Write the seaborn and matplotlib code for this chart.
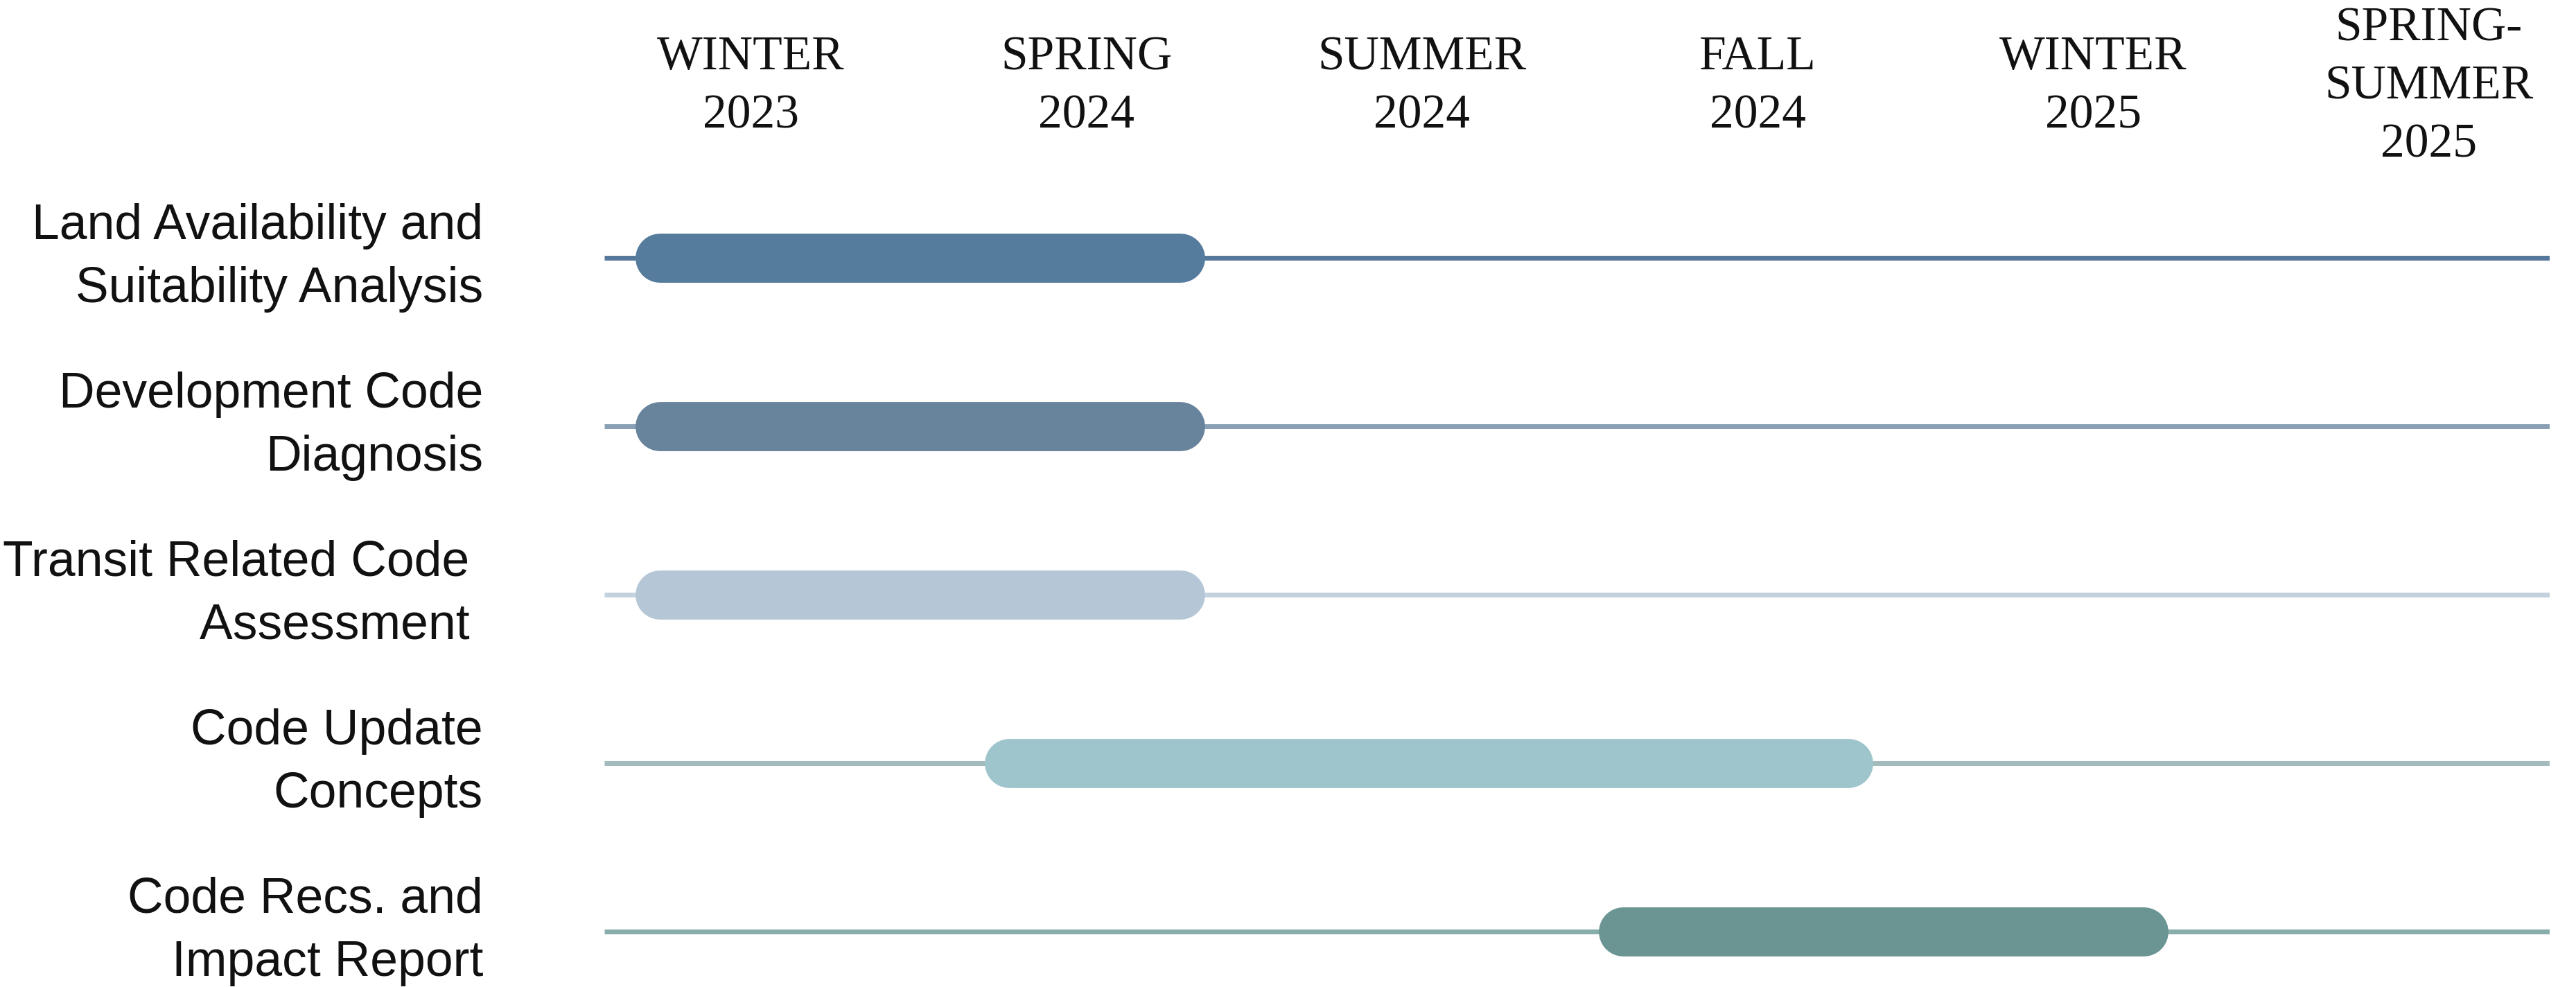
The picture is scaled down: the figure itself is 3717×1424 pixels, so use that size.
import matplotlib.pyplot as plt
import seaborn as sns
import pandas as pd

# Timeline data (x in season units: 0 = Winter 2023, 1 = Spring 2024, ...)
seasons = ["WINTER\n2023", "SPRING\n2024", "SUMMER\n2024", "FALL\n2024",
           "WINTER\n2025", "SPRING-\nSUMMER\n2025"]
tasks = [
    "Land Availability and\nSuitability Analysis",
    "Development Code\nDiagnosis",
    "Transit Related Code \nAssessment ",
    "Code Update\nConcepts",
    "Code Recs. and\nImpact Report",
]
task_start = [-0.27, -0.27, -0.27, 0.77, 2.60]
task_end = [1.28, 1.28, 1.28, 3.27, 4.15]
bar_colors = ["#557b9d", "#68839c", "#b5c6d6", "#9fc5cc", "#6a9593"]
track_colors = ["#56799b", "#8aa0b5", "#c4d2de", "#a3bbbd", "#88aeac"]

rows = list(range(len(tasks)))

# long table: one start and one end point per task
df = pd.DataFrame({
    "task": tasks + tasks,
    "row": rows + rows,
    "x": task_start + task_end,
})

sns.set_style("white")
plt.rcParams["font.family"] = ["Liberation Sans", "DejaVu Sans"]

fig = plt.figure(figsize=(37.17, 14.24), dpi=100)
ax = fig.add_axes([872 / 3717, 0, (3679 - 872) / 3717, (1424 - 230) / 1424])

# thin track lines across the whole timeline
for r, c in zip(rows, track_colors):
    ax.axhline(r, color=c, linewidth=5, solid_capstyle="butt", zorder=1)

sns.lineplot(
    data=df, x="x", y="row", hue="task", palette=dict(zip(tasks, bar_colors)),
    units="task", estimator=None, sort=False, linewidth=51,
    solid_capstyle="round", legend=False, ax=ax, zorder=2
)

ax.set_xlim(-0.436, 5.36)
ax.set_ylim(4.33, -0.584)
ax.set_xlabel("")
ax.set_ylabel("")

# season headers on top
ax.xaxis.tick_top()
ax.set_xticks(range(len(seasons)))
ax.set_xticklabels(seasons, family=["Liberation Serif", "DejaVu Serif"],
                   fontsize=50, color="#111111")
ax.tick_params(axis="x", length=0, pad=75)
for lab in ax.get_xticklabels():
    lab.set_va("center")
    lab.set_ha("center")
    lab.set_linespacing(1.43)

# task names on the left
ax.set_yticks(rows)
ax.set_yticklabels(tasks, fontsize=51.5, color="#111111")
ax.tick_params(axis="y", length=0, pad=126)
for lab in ax.get_yticklabels():
    lab.set_va("center")
    lab.set_ha("right")
    lab.set_linespacing(1.46)

sns.despine(ax=ax, left=True, bottom=True, top=True, right=True)
ax.grid(False)

fig.savefig("out.png", dpi=100)
